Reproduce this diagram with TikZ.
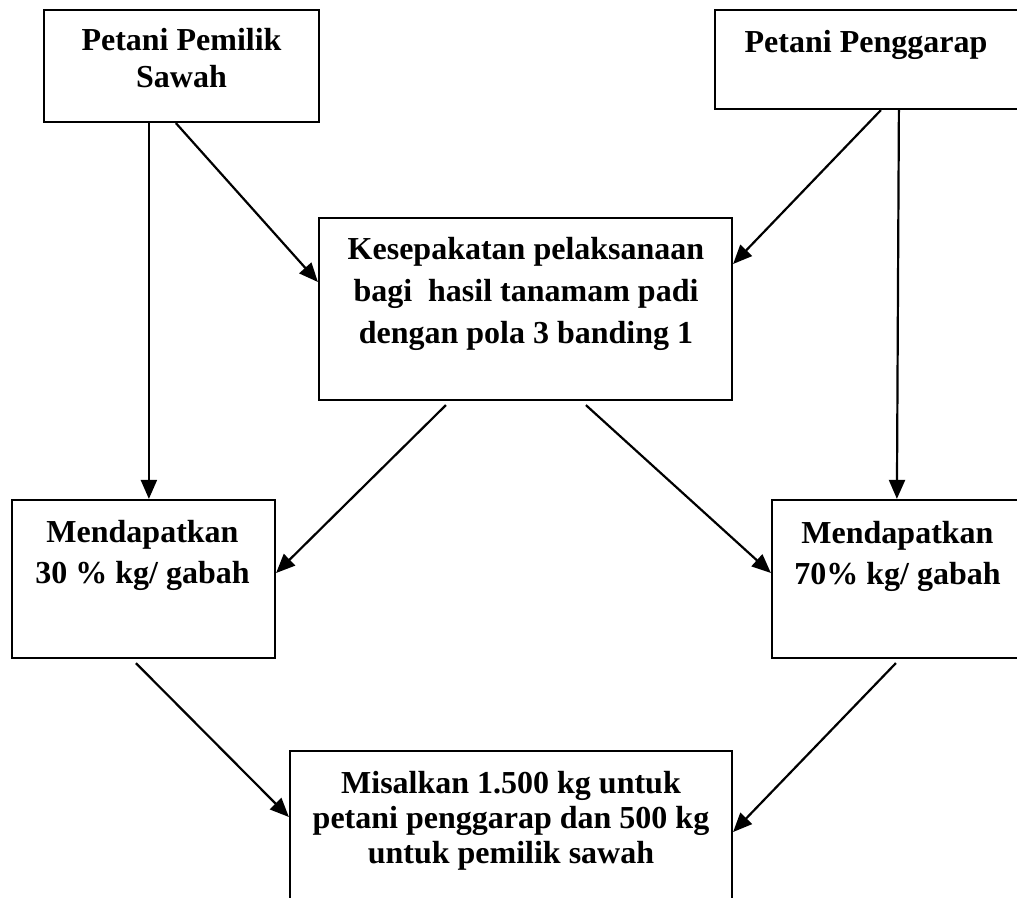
\documentclass[tikz,border=0pt]{standalone}
\usepackage{fontspec}
\setmainfont{Liberation Serif}
\usetikzlibrary{arrows.meta}
\tikzset{
  boxnode/.style={draw, line width=2.2pt, rectangle, inner sep=0pt},
  txt/.style={anchor=north, align=center, inner sep=0pt, font=\bfseries\fontsize{32}{#1}\selectfont},
  arr/.style={line width=2.2pt, -{Triangle[length=19pt,width=16pt]}}
}
\begin{document}
\begin{tikzpicture}[x=1pt,y=-1pt]
\useasboundingbox (0,0) rectangle (1017,897);
\clip (0,0) rectangle (1017,897);
% boxes
\node[boxnode, minimum width=275pt, minimum height=112pt] (b1) at (181.5,66) {};
\node[boxnode, minimum width=315pt, minimum height=99pt] (b2) at (872.5,59.5) {};
\node[boxnode, minimum width=413pt, minimum height=182pt] (c) at (525.5,309) {};
\node[boxnode, minimum width=263pt, minimum height=158pt] (l) at (143.5,579) {};
\node[boxnode, minimum width=258pt, minimum height=158pt] (r) at (901,579) {};
\node[boxnode, minimum width=442pt, minimum height=159pt] (bot) at (511,830.5) {};
% texts
\node[txt=37] (t1) at (181.5,28) {Petani Pemilik\\Sawah};
\node[txt=37] (t2) at (866,30) {Petani Penggarap};
\node[txt=42] (tc) at (526,237) {Kesepakatan pelaksanaan\\bagi\ \ hasil tanamam padi\\dengan pola 3 banding 1};
\node[txt=41] (tl) at (142.5,520) {Mendapatkan\\30 \% kg/ gabah};
\node[txt=41] (tr) at (897.5,521) {Mendapatkan\\70\% kg/ gabah};
\node[txt=35] (tb) at (511,771) {Misalkan 1.500 kg untuk\\petani penggarap dan 500 kg\\untuk pemilik sawah};
% connectors
\draw[arr] ([xshift=106pt]b1.south west) -- ([xshift=138pt]l.north west);
\draw[arr] ([xshift=133pt]b1.south west) -- ([yshift=27pt]c.west);
\draw[arr] ([xshift=167pt]b2.south west) -- ([yshift=45pt]c.east);
\draw[arr] ([xshift=185pt]b2.south west) -- ([xshift=126pt]r.north west);
\draw[arr] ([xshift=128pt,yshift=-4pt]c.south west) -- ([yshift=6pt]l.east);
\draw[arr] ([xshift=268pt,yshift=-4pt]c.south west) -- ([yshift=6pt]r.west);
\draw[arr] ([xshift=125pt,yshift=-4pt]l.south west) -- ([yshift=13.5pt]bot.west);
\draw[arr] ([xshift=125pt,yshift=-4pt]r.south west) -- ([yshift=-1.5pt]bot.east);
\end{tikzpicture}
\end{document}
